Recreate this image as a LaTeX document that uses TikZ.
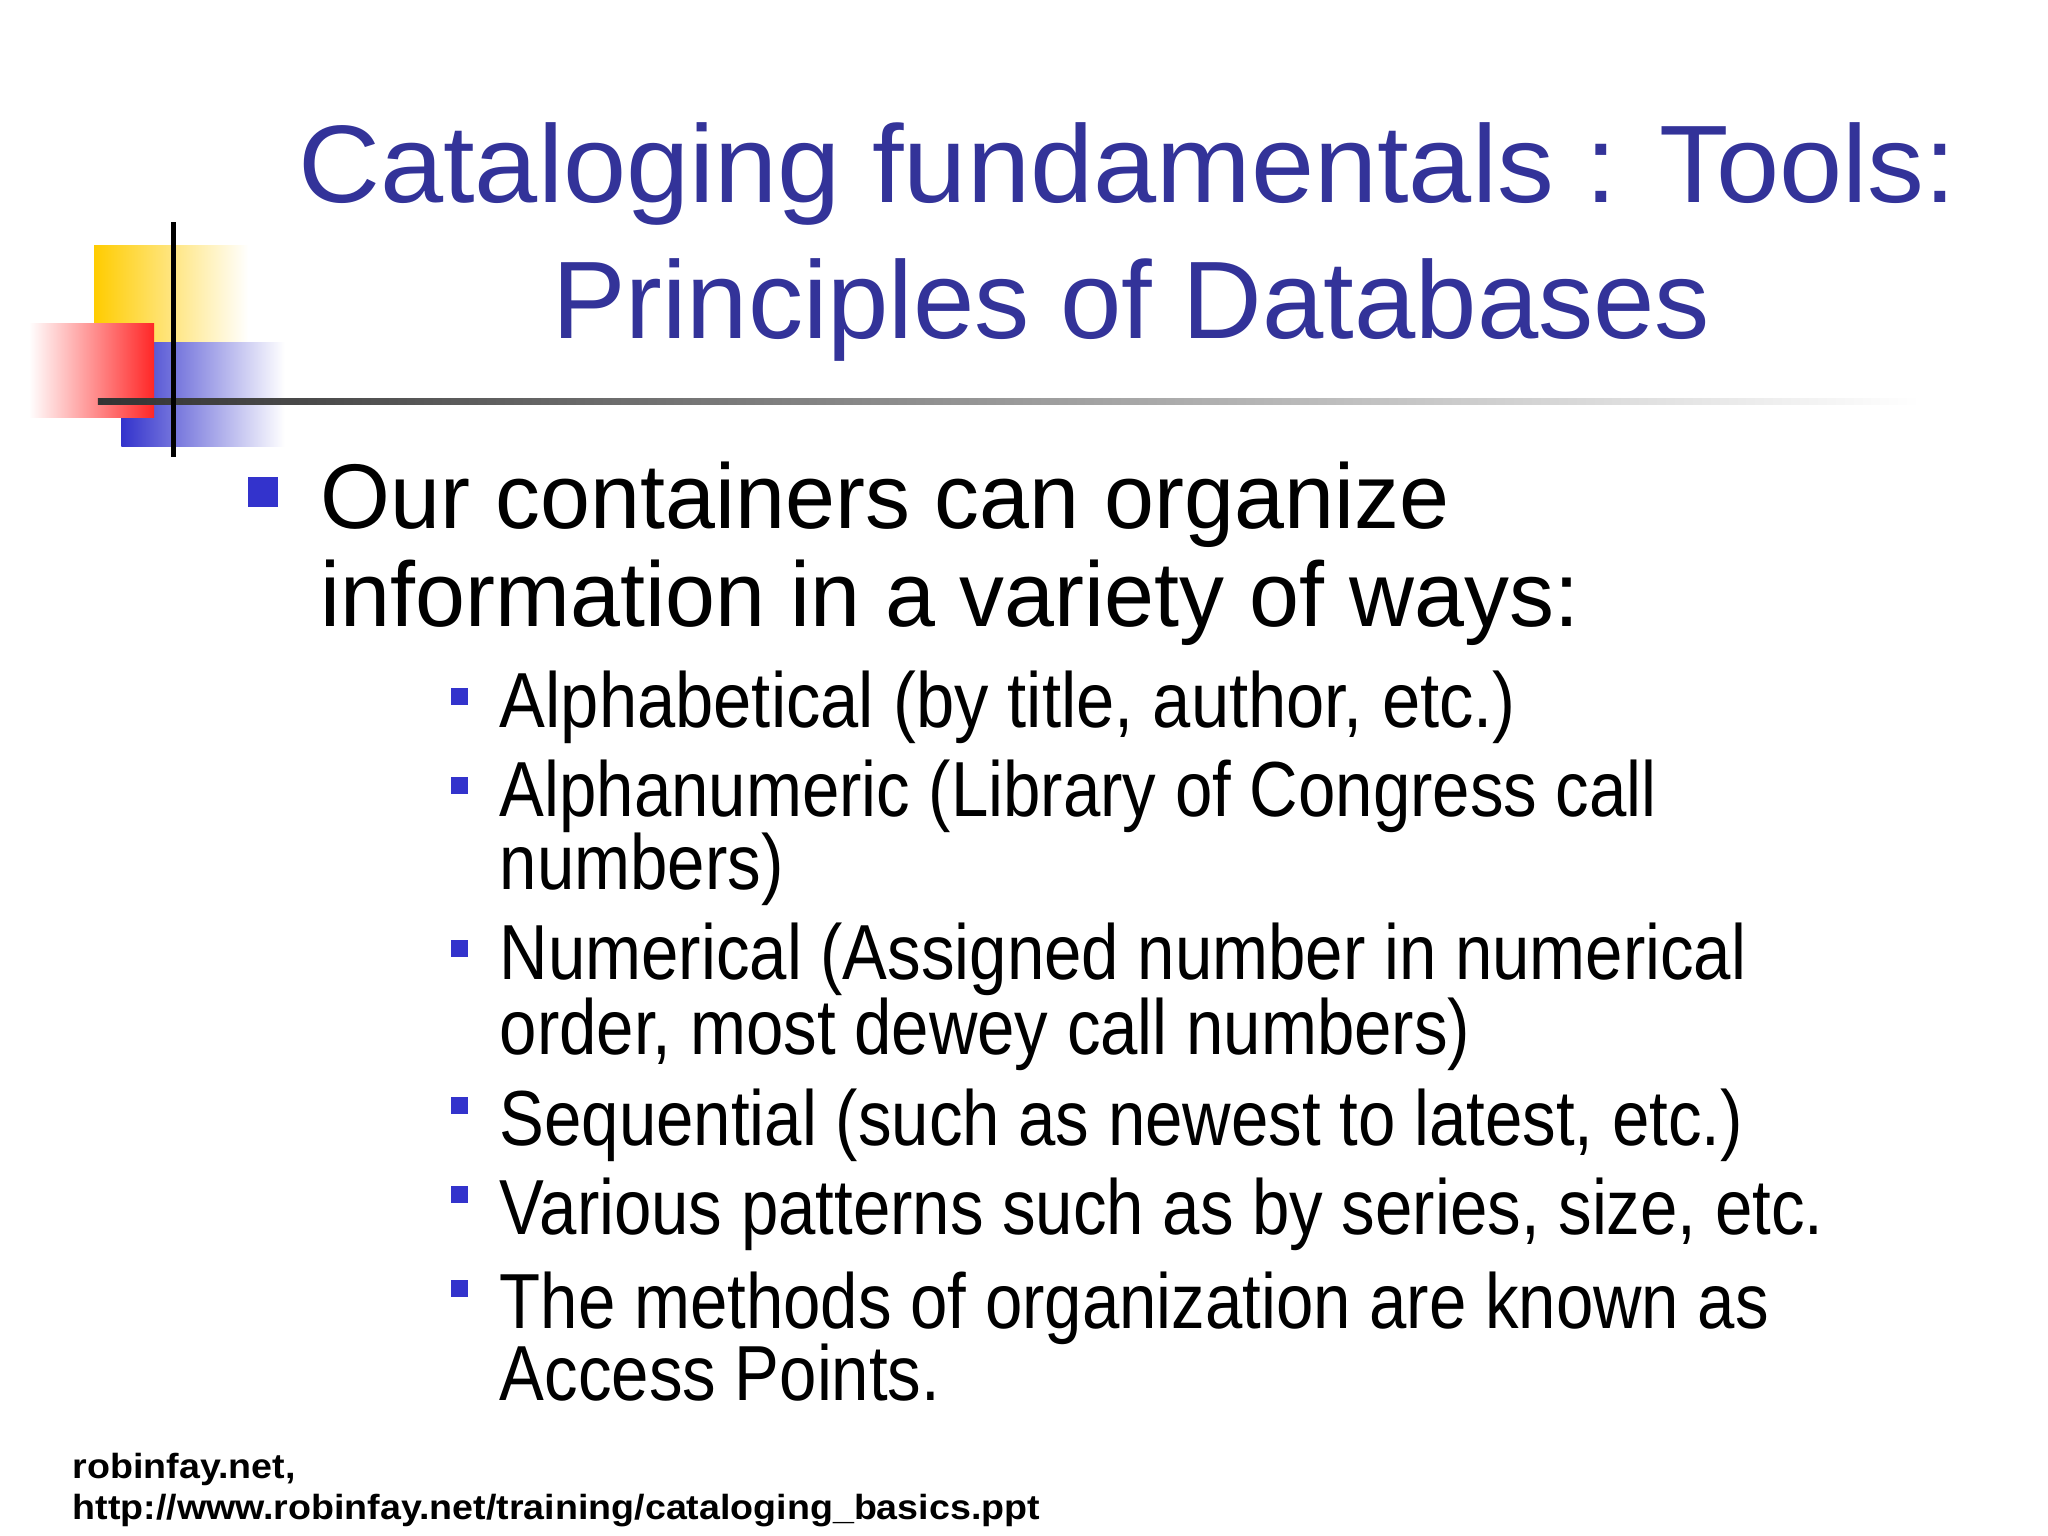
\documentclass[tikz,border=0pt]{standalone}
\usepackage{fontspec}
\usepackage{graphicx}
\setmainfont{Liberation Sans}
\newcommand{\sx}[2]{\scalebox{#1}[1]{#2}}
\begin{document}
\begin{tikzpicture}[x=0.01cm,y=-0.01cm,
  ttl/.style={font=\fontsize{24pt}{28pt}\selectfont, text=titleblue, anchor=base},
  big/.style={font=\fontsize{20pt}{24pt}\selectfont, anchor=base west, inner sep=0},
  sub/.style={font=\fontsize{17pt}{20pt}\selectfont, anchor=base west, inner sep=0},
  foot/.style={font=\bfseries\fontsize{7.6pt}{9pt}\selectfont, anchor=base west, inner sep=0}]
\definecolor{titleblue}{HTML}{333399}
\definecolor{bblue}{HTML}{3333CC}
\definecolor{yel}{HTML}{FFCC00}
\fill[white] (0,0) rectangle (1568,1176);
\useasboundingbox (0,0) rectangle (1568,1176);
% decoration
\shade[left color=yel, right color=white] (72,188) rectangle (190,305);
\shade[left color=bblue, right color=white] (93,262) rectangle (218,342);
\shade[left color=white, right color=red!85] (22,248) rectangle (118,320);
\shade[left color=black!80, right color=white] (75,305) rectangle (1470,310);
\fill[black] (131,170) rectangle (135,350);
% title
\node[ttl] (t1) at (863,155) {\sx{1.03}{Cataloging fundamentals : Tools:}};
\node[ttl] (t2) at (866,259) {\sx{1.0}{Principles of Databases}};
% bullets
\fill[bblue] (190,365) rectangle (213,388);
\node[big] (b1) at (245,405) {\sx{0.978}{Our containers can organize}};
\node[big] (b1b) at (245,480) {\sx{0.978}{information in a variety of ways:}};
\foreach \y in {540,608,733,853,921,993}
  \fill[bblue] (345,\y-13) rectangle (358,\y);
\node[sub] (s1) at (382,557) {\sx{0.88}{Alphabetical (by title, author, etc.)}};
\node[sub] (s2) at (382,625) {\sx{0.86}{Alphanumeric (Library of Congress call}};
\node[sub] (s2b) at (382,681) {\sx{0.86}{numbers)}};
\node[sub] (s3) at (382,750) {\sx{0.86}{Numerical (Assigned number in numerical}};
\node[sub] (s3b) at (382,807) {\sx{0.86}{order, most dewey call numbers)}};
\node[sub] (s4) at (382,877) {\sx{0.86}{Sequential (such as newest to latest, etc.)}};
\node[sub] (s5) at (382,945) {\sx{0.86}{Various patterns such as by series, size, etc.}};
\node[sub] (s6) at (382,1017) {\sx{0.86}{The methods of organization are known as}};
\node[sub] (s6b) at (382,1072) {\sx{0.86}{Access Points.}};
\node[foot] (f1) at (55,1132) {\sx{1.077}{robinfay.net,}};
\node[foot] (f2) at (55,1163) {\sx{1.077}{http://www.robinfay.net/training/cataloging\_basics.ppt}};
\end{tikzpicture}
\end{document}
